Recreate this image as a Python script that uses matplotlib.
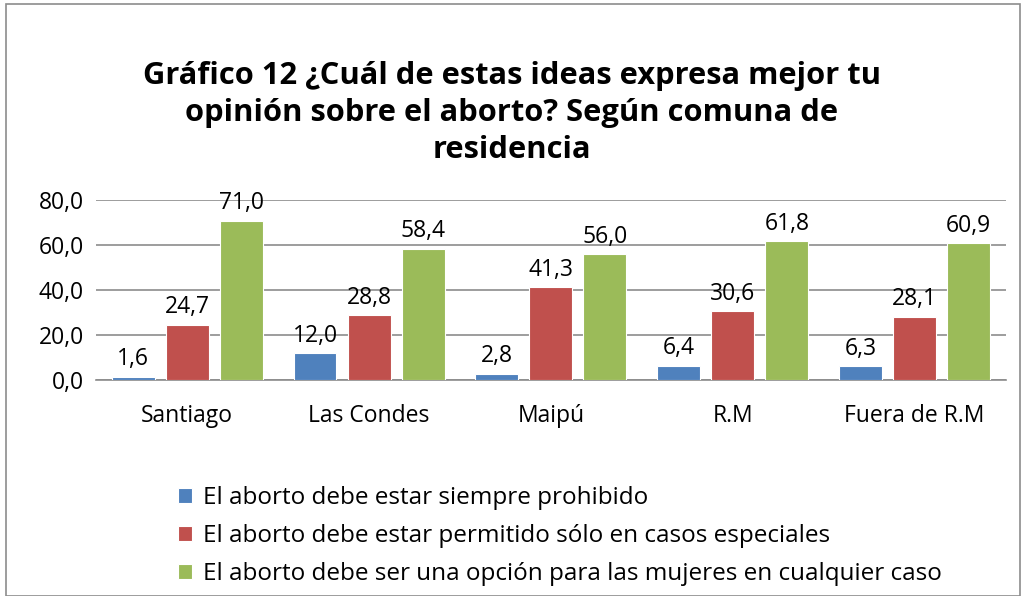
import matplotlib.pyplot as plt
import numpy as np
from matplotlib.patches import Rectangle

# datos
comunas = ['Santiago', 'Las Condes', 'Maipú', 'R.M', 'Fuera de R.M']
prohibido = [1.6, 12.0, 2.8, 6.4, 6.3]
especiales = [24.7, 28.8, 41.3, 30.6, 28.1]
cualquier = [71.0, 58.4, 56.0, 61.8, 60.9]
series_labels = ['El aborto debe estar siempre prohibido',
                 'El aborto debe estar permitido sólo en casos especiales',
                 'El aborto debe ser una opción para las mujeres en cualquier caso']
colores = ['#4f81bd', '#c0504d', '#9bbb59']

plt.rcParams['font.family'] = ['Open Sans', 'DejaVu Sans']

fig = plt.figure(figsize=(10.24, 5.96), dpi=100)
ax = fig.add_axes([0.094, 0.362, 0.888, 0.302])

x = np.arange(len(comunas))
w = 0.236
off = 0.297
fs = 16.5
for i, (vals, lab, c) in enumerate(zip([prohibido, especiales, cualquier], series_labels, colores)):
    bars = ax.bar(x + (i - 1) * off, vals, w, color=c, label=lab, edgecolor='white', linewidth=0.8, zorder=3)
    for b, v in zip(bars, vals):
        ax.annotate(f'{v:.1f}'.replace('.', ','), (b.get_x() + b.get_width() / 2, v),
                    xytext=(0, 4), textcoords='offset points', ha='center', va='bottom', fontsize=fs)

ax.set_ylim(0, 80)
ax.set_xlim(-0.5, len(comunas) - 0.5)
ax.set_yticks([0, 20, 40, 60, 80])
ax.set_yticklabels([f'{t:.1f}'.replace('.', ',') for t in [0, 20, 40, 60, 80]], fontsize=fs)
ax.set_xticks(x)
ax.set_xticklabels(comunas, fontsize=fs)
ax.tick_params(axis='y', length=0, pad=9)
ax.tick_params(axis='x', length=0, pad=17)
ax.yaxis.grid(True, color='#8c8c8c', linewidth=1.2, zorder=0)
for s in ['top', 'right', 'left']:
    ax.spines[s].set_visible(False)
ax.spines['bottom'].set_color('#8c8c8c')
ax.spines['bottom'].set_linewidth(1.2)

fig.text(0.5, 0.81, 'Gráfico 12 ¿Cuál de estas ideas expresa mejor tu\nopinión sobre el aborto? Según comuna de\nresidencia',
         ha='center', va='center', fontsize=22.2, fontweight='bold', linespacing=1.3)

fig.legend(loc='center left', bbox_to_anchor=(0.152, 0.10), frameon=False, fontsize=17.5,
           handlelength=0.58, handleheight=0.58, handletextpad=0.45, labelspacing=0.58,
           bbox_transform=fig.transFigure)

fig.patches.append(Rectangle((0.006, 0.0), 0.99, 0.993, transform=fig.transFigure,
                             fill=False, edgecolor='#8c8c8c', linewidth=1.2))

plt.savefig('out.png')
